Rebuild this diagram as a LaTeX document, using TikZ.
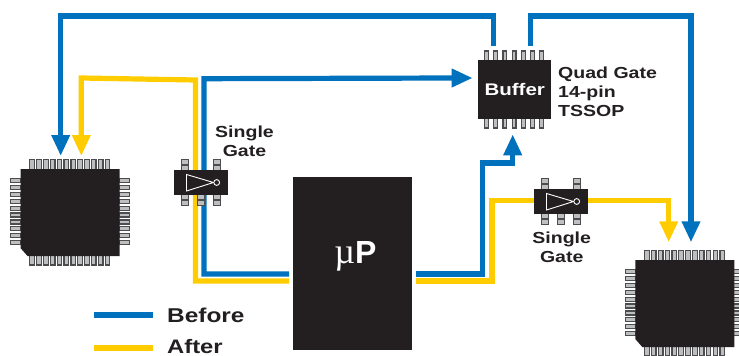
\documentclass[tikz,border=0pt]{standalone}
\usepackage{fontspec}
\setmainfont{Liberation Serif}
\setsansfont[FakeStretch=1.22]{Liberation Sans}
\newfontfamily\plainsans{Liberation Sans}
\definecolor{bluew}{HTML}{0071BC}
\definecolor{yelw}{HTML}{FFCC00}
\definecolor{chipk}{HTML}{231F20}
\definecolor{pinfill}{HTML}{BDBEC0}
\definecolor{pinedge}{HTML}{4D4D4F}
\usetikzlibrary{arrows.meta}
\tikzset{
  wire/.style={line width=5.2pt,line join=miter},
  bluewire/.style={wire,draw=bluew},
  yelwire/.style={wire,draw=yelw},
  arrowb/.style={bluewire,-{Triangle[length=21pt,width=17.5pt]}},
  arrowy/.style={yelwire,-{Triangle[length=21pt,width=17.5pt]}},
  body/.style={fill=chipk,draw=none},
  pinrect/.style={fill=pinfill,draw=pinedge,line width=1.2pt},
  lbl/.style={font=\sffamily\bfseries\fontsize{16}{19}\selectfont,text=chipk,inner sep=0pt,align=center},
  leg/.style={font=\sffamily\bfseries\fontsize{20}{22}\selectfont,text=chipk,inner sep=0pt,anchor=west}
}
\newcommand{\qfp}[2]{%
  \begin{scope}[shift={(#1,#2)}]
    \foreach \i in {0,...,11}{
      \pgfmathsetmacro{\xx}{9.3+6.85*\i}
      \draw[pinrect] (\xx,-9.5) rectangle ++(4.6,10);
      \draw[pinrect] (\xx,86.5) rectangle ++(4.6,9.5);
    }
    \foreach \i in {0,...,9}{
      \pgfmathsetmacro{\yy}{9.5+6.9*\i}
      \draw[pinrect] (-10,\yy) rectangle ++(10.5,4);
      \draw[pinrect] (98.5,\yy) rectangle ++(10.5,4);
    }
    \fill[chipk] (0,0) -- (99,0) -- (99,87) -- (7,87) -- (0,79) -- cycle;
  \end{scope}}
\newcommand{\gateic}[3]{%
  \begin{scope}[shift={(#1,#2)}]
    \foreach \x in {7.6,39.6}{
      \draw[pinrect] (\x,-10.5) rectangle ++(6.6,11);
      \draw[pinedge,line width=1.2pt] (\x,-5) -- ++(6.6,0);
    }
    \foreach \x in {7.6,23.6,39.6}{
      \draw[pinrect] (\x,24.5) rectangle ++(6.6,11);
      \draw[pinedge,line width=1.2pt] (\x,30) -- ++(6.6,0);
    }
    \node[body,minimum width=54pt,minimum height=25pt,inner sep=0pt,anchor=north west] (#3) at (0,0) {};
    \draw[white,line width=0.9pt] (12.5,4.5) -- (12.5,21) -- (39.5,12.5) -- cycle;
    \draw[white,line width=0.9pt,fill=chipk] (42.7,12.5) circle (2.9);
  \end{scope}}
\begin{document}
\begin{tikzpicture}[x=1pt,y=-1pt]
\useasboundingbox (0,0) rectangle (739,356);
% free ends of the connectors
\coordinate (bsL) at (289,274);
\coordinate (ysL) at (289,281);
\coordinate (bsR) at (416,274);
\coordinate (ysR) at (416,281);
\coordinate (bT1) at (493.3,45.7);
\coordinate (bT2) at (530.6,45.7);
\coordinate (tipB) at (472.7,78);
\coordinate (tipU) at (512.7,134.3);
\coordinate (tipLb) at (60.7,156);
\coordinate (tipLy) at (81.3,156);
\coordinate (tipRb) at (691,242.3);
\coordinate (tipRy) at (668.7,242.3);
\coordinate (legB1) at (94,315);
\coordinate (legB2) at (153,315);
\coordinate (legY1) at (94,348);
\coordinate (legY2) at (153,348);
% wires
\draw[arrowy] (ysL) -| (195.4,80) -- (81.3,78) -- (tipLy);
\draw[yelwire] (ysR) -| (492,200.2) -- (534,200.2);
\draw[arrowy] (588,200.2) -| (tipRy);
\draw[bluewire] (bsL) -| (204,78.7) -- (455,78);
\draw[arrowb] (452,78) -- (tipB);
\draw[arrowb] (bT1) |- (60.7,16) -- (tipLb);
\draw[arrowb] (bT2) |- (691,16) -- (tipRb);
\draw[arrowb] (bsR) -| (482.7,163) -| (tipU);
\draw[bluewire] (legB1) -- (legB2);
\draw[yelwire] (legY1) -- (legY2);
% chips
\qfp{20.5}{169}
\qfp{635.3}{260}
\gateic{174}{170}{gateL}
\gateic{534}{189}{gateR}
% buffer
\foreach \i in {0,...,6}{
  \pgfmathsetmacro{\xx}{484.7+9.15*\i}
  \draw[pinrect] (\xx,51) rectangle ++(3.8,10);
  \draw[pinrect] (\xx,118) rectangle ++(3.8,10);
}
\node[body,minimum width=73pt,minimum height=58.7pt,inner sep=0pt,anchor=north west,font=\sffamily\bfseries\fontsize{16.8}{18}\selectfont,text=white] (buffer) at (478,60) {Buffer};
% microprocessor
\node[body,minimum width=119pt,minimum height=173pt,inner sep=0pt,anchor=north west] (mup) at (293,177) {};
\node[inner sep=0pt,text=white,anchor=base] (mulabel) at (355.5,263) {{\fontsize{36}{38}\selectfont\textmu}{\plainsans\bfseries\fontsize{32}{34}\selectfont P}};
% labels
\node[lbl] (l1) at (244.5,141) {Single\\Gate};
\node[lbl] (l2) at (561.7,247) {Single\\Gate};
\node[lbl,align=left,anchor=north west] (l3) at (558,67) {Quad Gate\\14-pin\\TSSOP};
\node[leg] (l4) at (167,315) {Before};
\node[leg,font=\sffamily\bfseries\fontsize{19.5}{21}\selectfont] (l5) at (167,346.5) {After};
\end{tikzpicture}
\end{document}
